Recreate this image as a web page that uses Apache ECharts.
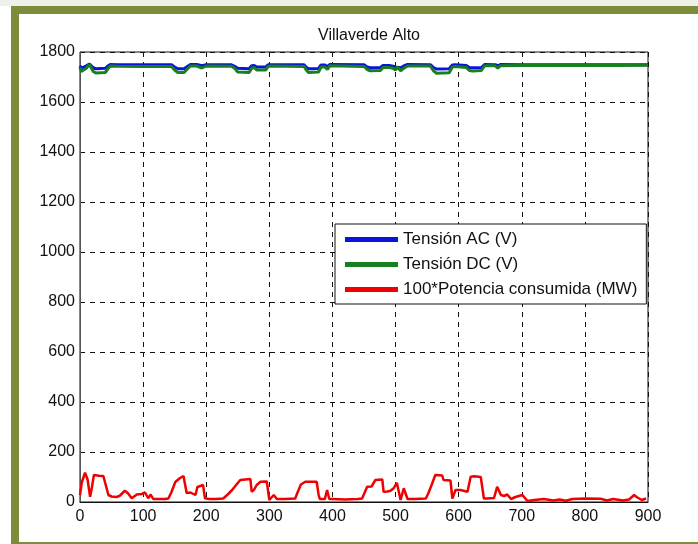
<!DOCTYPE html>
<html>
<head>
<meta charset="utf-8">
<script src="https://cdn.jsdelivr.net/npm/echarts@6/dist/echarts.min.js"></script>
<style>
  html, body { margin: 0; padding: 0; background: #fff; }
  #wrap { position: relative; width: 698px; height: 544px; overflow: hidden; }
  .frame { position: absolute; background: #7b8c3a; }
  #chart { position: absolute; left: 0; top: 0; width: 698px; height: 544px; }
</style>
</head>
<body>
<div id="wrap">
  <div style="position:absolute;left:0;top:0;width:698px;height:6px;background:#eef0ea"></div>
  <div class="frame" style="left:11px;top:6px;width:687px;height:8px"></div>
  <div class="frame" style="left:11px;top:6px;width:8px;height:538px"></div>
  <div class="frame" style="left:11px;top:542px;width:687px;height:2px"></div>
  <div id="chart"></div>
</div>
<script>
// Villaverde Alto: tensiones AC/DC y 100*potencia frente al tiempo
const TITLE = "Villaverde Alto";
const NAMES = ["Tensión AC (V)", "Tensión DC (V)", "100*Potencia consumida (MW)"];
const COLORS = ["#0a14dc", "#16801e", "#f00000"];

const vX = [0, 2, 5, 10, 15, 18, 21, 25, 40, 44, 48, 60, 100, 145, 150, 155, 165, 170, 175, 185,
  188, 193, 196, 200, 240, 245, 250, 268, 272, 276, 280, 294, 298, 302, 355, 358, 362, 378, 382, 388,
  392, 396, 450, 455, 460, 476, 480, 490, 496, 500, 503, 508, 513, 519, 555, 560, 565, 585, 590, 595,
  612, 617, 622, 636, 641, 658, 662, 666, 700, 750, 800, 850, 900];

const acV = [1745, 1735, 1730, 1745, 1752, 1750, 1737, 1733, 1735, 1744, 1750, 1749, 1749, 1749, 1740, 1733, 1733, 1742, 1750, 1750,
  1745, 1745, 1750, 1749, 1749, 1743, 1735, 1733, 1745, 1746, 1740, 1740, 1749, 1749, 1749, 1740, 1733, 1734, 1748, 1748,
  1742, 1750, 1749, 1740, 1737, 1738, 1746, 1746, 1743, 1740, 1748, 1737, 1744, 1750, 1749, 1738, 1732, 1733, 1748, 1749,
  1746, 1738, 1737, 1738, 1750, 1749, 1745, 1750, 1749, 1749, 1749, 1749, 1749];

const dcV = [1738, 1722, 1715, 1735, 1750, 1745, 1722, 1716, 1718, 1732, 1744, 1743, 1742, 1742, 1728, 1718, 1718, 1732, 1744, 1744,
  1736, 1736, 1744, 1744, 1743, 1735, 1720, 1718, 1735, 1738, 1728, 1728, 1742, 1744, 1742, 1730, 1718, 1720, 1740, 1740,
  1730, 1745, 1742, 1730, 1725, 1726, 1738, 1738, 1735, 1728, 1740, 1725, 1735, 1744, 1744, 1725, 1715, 1717, 1740, 1742,
  1738, 1726, 1724, 1726, 1745, 1745, 1735, 1745, 1746, 1746, 1747, 1746, 1747];

const pX = [0, 3, 8, 12, 16, 19, 22, 30, 37, 40, 45, 50, 58, 63, 71, 76, 82, 90, 98, 103,
  108, 112, 116, 125, 135, 140, 145, 151, 158, 164, 169, 175, 183, 186, 188, 195, 198, 205, 215, 227,
  234, 241, 248, 254, 257, 270, 272, 276, 280, 286, 296, 300, 303, 307, 312, 325, 341, 345, 350, 357,
  375, 378, 380, 388, 391.5, 395, 400, 420, 440, 447, 455, 462, 468, 479, 481, 487, 492, 497, 502, 508,
  513, 519, 530, 548, 552, 556, 563, 574, 576, 587, 590, 595, 603, 614, 619, 625, 635, 640, 645, 656,
  661, 667, 672, 677, 683, 690, 701, 709, 720, 735, 750, 760, 770, 780, 800, 825, 835, 845, 860, 870,
  878, 882, 890, 897];

const pV = [28, 80, 117, 90, 21, 60, 108, 105, 104, 96, 28, 22, 20, 25, 45, 35, 15, 30, 32, 38,
  15, 30, 12, 12, 12, 14, 40, 80, 95, 104, 36, 38, 28, 60, 68, 68, 15, 12, 12, 14,
  30, 48, 70, 88, 93, 92, 41, 50, 68, 81, 82, 8, 10, 28, 12, 12, 14, 40, 70, 81,
  81, 30, 12, 12, 48, 12, 12, 10, 12, 14, 61, 62, 88, 90, 41, 42, 45, 55, 77, 8,
  55, 12, 12, 14, 35, 61, 108, 106, 88, 86, 14, 48, 48, 41, 101, 103, 100, 14, 14, 16,
  61, 28, 24, 30, 12, 20, 28, 4, 8, 12, 6, 10, 5, 12, 14, 13, 6, 12, 6, 10,
  28, 20, 8, 14];

const zip = (xs, ys) => xs.map((x, i) => [x, ys[i]]);

const FONT = "Liberation Sans, Arial, sans-serif";
const ch = echarts.init(document.getElementById("chart"));

ch.setOption({
  backgroundColor: "transparent",
  animation: false,
  title: {
    text: TITLE,
    left: 364,
    textAlign: "center",
    top: 23,
    textStyle: { fontFamily: FONT, fontSize: 16, fontWeight: "normal", color: "#111" },
  },
  grid: { left: 80, right: 50, top: 52, bottom: 42, show: true, borderColor: "#111", borderWidth: 1 },
  legend: {
    orient: "vertical",
    left: 335,
    top: 224,
    icon: "rect",
    itemWidth: 53,
    itemHeight: 5,
    itemGap: 8,
    padding: [7, 9, 6, 10],
    backgroundColor: "#fff",
    borderColor: "#111",
    borderWidth: 1,
    textStyle: { fontFamily: FONT, fontSize: 17, color: "#111" },
    data: NAMES,
  },
  xAxis: {
    type: "value",
    min: 0,
    max: 900,
    interval: 100,
    axisLine: { show: true, lineStyle: { color: "#111", width: 1 } },
    axisTick: { show: false },
    axisLabel: { fontFamily: FONT, fontSize: 16, color: "#111", margin: 7, formatter: (v) => String(v) },
    splitLine: { show: true, lineStyle: { color: "#111", type: [5, 5], width: 1 } },
  },
  yAxis: {
    type: "value",
    min: 0,
    max: 1800,
    interval: 200,
    axisLine: { show: true, lineStyle: { color: "#555", width: 1 } },
    axisTick: { show: false },
    axisLabel: { fontFamily: FONT, fontSize: 16, color: "#111", margin: 5, formatter: (v) => String(v) },
    splitLine: { show: true, lineStyle: { color: "#111", type: [5, 5], width: 1 } },
  },
  series: [
    { name: NAMES[0], type: "line", data: zip(vX, acV), showSymbol: false, lineStyle: { width: 3, color: COLORS[0] }, itemStyle: { color: COLORS[0] } },
    { name: NAMES[1], type: "line", data: zip(vX, dcV), showSymbol: false, lineStyle: { width: 3, color: COLORS[1] }, itemStyle: { color: COLORS[1] } },
    { name: NAMES[2], type: "line", data: zip(pX, pV), showSymbol: false, lineStyle: { width: 2.5, color: COLORS[2] }, itemStyle: { color: COLORS[2] } },
  ],
});
</script>
</body>
</html>
